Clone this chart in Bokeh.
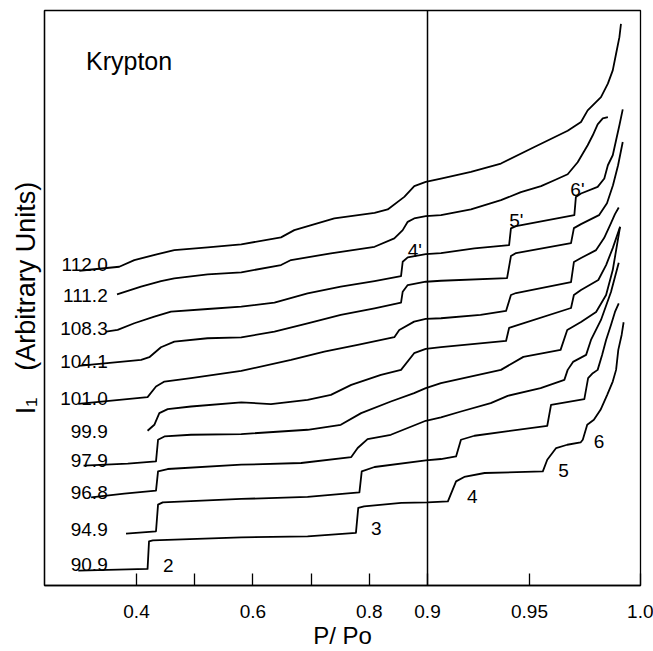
from bokeh.plotting import figure
from bokeh.models import (ColumnDataSource, CustomJSTransform, FixedTicker, Span,
                          Range1d, CustomJSTickFormatter)
from bokeh.transform import transform
from bokeh.embed import file_html
from bokeh.resources import INLINE
from bokeh.core.properties import value
import numpy as np

# ---------------- data (P/Po, I1 in arbitrary units) ----------------
temps = ["112.0", "111.2", "108.3", "104.1", "101.0", "99.9", "97.9", "96.8", "94.9", "90.9"]

P_909 = [0.300, 0.419, 0.4215, 0.428, 0.580, 0.694, 0.777, 0.781, 0.791, 0.855, 0.900, 0.910, 0.914, 0.918, 0.928,
         0.956, 0.958, 0.962, 0.967, 0.973, 0.974, 0.976, 0.979, 0.982, 0.985, 0.9875, 0.989, 0.990, 0.9915, 0.9924]
I_909 = [15, 16.7, 44.3, 45.3, 48.3, 49.3, 52.7, 77.7, 79.3, 82.7, 83.3, 84.3, 104.3, 108.7, 112.7,
         114.3, 126, 137.7, 141, 143.3, 146, 161, 166, 176, 191, 204.3, 216, 236, 251, 263.7]

P_949 = [0.382, 0.4335, 0.437, 0.445, 0.580, 0.694, 0.783, 0.787, 0.809, 0.897, 0.9066, 0.914, 0.9164, 0.923, 0.958,
         0.9597, 0.9747, 0.9764, 0.9785, 0.9807, 0.9827, 0.9845, 0.9867, 0.9885, 0.9902]
I_949 = [52, 54.3, 81, 83.3, 86.7, 88.7, 93.3, 114.3, 118.7, 125.3, 126.7, 129.3, 146, 150, 160,
         181, 186.7, 207.7, 212.7, 216, 231, 246, 261, 274, 282.7]

P_968 = [0.322, 0.379, 0.4335, 0.437, 0.4536, 0.580, 0.683, 0.769, 0.780, 0.797, 0.837, 0.897, 0.9066, 0.9164, 0.931,
         0.9393, 0.955, 0.9657, 0.9672, 0.9696, 0.9755, 0.9777, 0.9822, 0.9867, 0.9902]
I_968 = [88.3, 92, 95, 114.3, 116.7, 121, 122.7, 128.7, 137.7, 146.7, 151, 165, 168.5, 174.3, 182.7,
         190, 197.7, 206, 216, 224, 231, 246, 266, 294, 323.3]

P_979 = [0.309, 0.385, 0.4335, 0.437, 0.448, 0.4936, 0.580, 0.694, 0.751, 0.786, 0.837, 0.877, 0.897, 0.9066, 0.936,
         0.947, 0.964, 0.967, 0.9732, 0.980, 0.9845, 0.9875, 0.9908]
I_979 = [120, 122, 124.3, 146, 149.3, 151, 151.7, 156, 161, 172.7, 184.3, 192.7, 197.7, 202.7, 216,
         229, 236, 256, 264, 274, 291, 316, 359.3]

P_999 = [0.419, 0.4306, 0.4392, 0.4536, 0.4936, 0.580, 0.631, 0.694, 0.734, 0.769, 0.820, 0.8545, 0.877, 0.897, 0.9066,
         0.9385, 0.940, 0.943, 0.9687, 0.970, 0.9732, 0.981, 0.9845, 0.9875, 0.9908]
I_999 = [155, 161, 172.7, 176.7, 179.3, 183.5, 181.7, 186, 191, 201, 211, 216, 232.7, 237, 238.7,
         245, 258, 260, 278, 291, 296, 306, 321, 338, 359.3]

P_1010 = [0.300, 0.419, 0.4335, 0.448, 0.4936, 0.580, 0.6655, 0.7227, 0.780, 0.843, 0.8515, 0.877, 0.897, 0.9066,
          0.926, 0.9385, 0.9409, 0.9434, 0.9687, 0.970, 0.9732, 0.980, 0.9836, 0.9863, 0.9885, 0.9902]
I_1010 = [182, 188.7, 199.3, 204.3, 207.7, 215, 226, 234.3, 241, 248.7, 256, 264.3, 267, 267.7,
          271, 275, 291, 293, 304, 324, 328, 336, 348, 361, 372, 378.7]

P_1041 = [0.300, 0.408, 0.422, 0.442, 0.465, 0.522, 0.580, 0.637, 0.694, 0.751, 0.809, 0.8545, 0.8574, 0.866, 0.897,
          0.9066, 0.939, 0.9409, 0.9434, 0.9687, 0.970, 0.9732, 0.9813, 0.9849, 0.9876, 0.9899, 0.992]
I_1041 = [220, 226, 228.7, 238.7, 244.3, 247.7, 248.5, 254.3, 262.7, 271, 277.7, 283.3, 294.3, 301, 304.3,
          305.3, 308, 330, 333, 343, 358, 362, 371, 383, 401, 421, 444.3]

P_1083 = [0.3476, 0.3676, 0.3962, 0.4306, 0.4593, 0.5223, 0.580, 0.637, 0.694, 0.751, 0.809, 0.8545, 0.8574, 0.866,
          0.897, 0.9066, 0.923, 0.940, 0.9409, 0.9434, 0.9702, 0.9709, 0.9732, 0.9807, 0.9837, 0.9853, 0.9875, 0.989,
          0.9905, 0.992]
I_1083 = [254.3, 256, 262.7, 269.3, 274.3, 277, 279.3, 283.3, 292.7, 299.3, 305, 310, 324.3, 328.7,
          332, 333, 337.7, 341, 357.7, 360, 371, 389.3, 392.7, 399.3, 407.7, 421, 431, 446, 461, 477]

P_1112 = [0.3665, 0.4077, 0.4421, 0.4649, 0.5223, 0.580, 0.6483, 0.6655, 0.734, 0.809, 0.843, 0.8574, 0.866, 0.877,
          0.897, 0.9066, 0.9213, 0.936, 0.9458, 0.9552, 0.9612, 0.9672, 0.9717, 0.9762, 0.9785, 0.9807, 0.983, 0.9853]
I_1112 = [291.7, 299.3, 305, 307.7, 311.7, 313.7, 321, 326, 332.7, 339.3, 347.7, 356, 364.3, 367.7,
          370, 371, 376.7, 386, 394, 400, 406, 412, 424, 441, 451, 462, 468, 469.3]

P_1120 = [0.3017, 0.3704, 0.3962, 0.4364, 0.4649, 0.5223, 0.580, 0.6483, 0.6711, 0.7399, 0.809, 0.8316, 0.8601,
          0.8773, 0.897, 0.9066, 0.9213, 0.936, 0.9522, 0.9672, 0.9732, 0.9762, 0.9822, 0.9853, 0.9875, 0.989,
          0.9905, 0.9912]
I_1120 = [315.3, 319.3, 326, 332, 336, 338.7, 341.8, 348.7, 356, 367.7, 373.3, 376.7, 389.3,
          400, 404.3, 407.7, 414.3, 422.7, 439.3, 455.5, 464.3, 476, 489.3, 502.7, 516, 532.7, 549.3, 562.7]

series_P = [P_1120, P_1112, P_1083, P_1041, P_1010, P_999, P_979, P_968, P_949, P_909]
series_I = [I_1120, I_1112, I_1083, I_1041, I_1010, I_999, I_979, I_968, I_949, I_909]

step_labels = ["2", "3", "4", "5", "6", "4'", "5'", "6'"]
tick_values = [0.4, 0.5, 0.6, 0.7, 0.8, 0.9, 0.95, 1.0]
tick_labels = ["0.4", "", "0.6", "", "0.8", "0.9", "0.95", "1.0"]

# ---------------- broken P/Po axis (piecewise linear display scale) ----------------
BREAK_P = [0.2, 0.9, 0.95, 1.0]
BREAK_U = [-407.4, 0.0, 102.0, 213.0]
brk = CustomJSTransform(args=dict(BP=BREAK_P, BU=BREAK_U), v_func="""
const out = new Float64Array(xs.length);
for (let i = 0; i < xs.length; i++) {
  const x = xs[i];
  let k = 0;
  while (k < BP.length - 2 && x > BP[k + 1]) k++;
  out[i] = BU[k] + (x - BP[k]) * (BU[k + 1] - BU[k]) / (BP[k + 1] - BP[k]);
}
return out;
""")

def to_u(p):
    return float(np.interp(p, BREAK_P, BREAK_U))

FONT = "Liberation Sans"
X0, X1 = to_u(0.2419), to_u(1.0)

p = figure(width=653, height=651, output_backend="svg", toolbar_location=None,
           x_range=Range1d(X0, X1), y_range=Range1d(0, 576),
           min_border_left=44, min_border_right=13, min_border_top=10, min_border_bottom=65)
p.grid.visible = False
p.outline_line_color = "black"
p.outline_line_width = 1.3
p.background_fill_color = "white"
p.border_fill_color = "white"

for P_, I_ in zip(series_P, series_I):
    src = ColumnDataSource(dict(p=P_, i=I_))
    p.line(x=transform("p", brk), y="i", source=src, line_color="black",
           line_width=1.8, line_join="round")

p.add_layout(Span(location=to_u(0.9), dimension="height", line_color="black", line_width=1.5))

# temperature labels at the left of each curve
temp_src = ColumnDataSource(dict(x=[0.3505] * len(temps),
                                 y=[322, 291, 257.7, 224.3, 187.7, 154.3, 125.3, 92.7, 56, 21],
                                 t=temps))
p.text(x=transform("x", brk), y="y", text="t", source=temp_src, text_align="right",
       text_baseline="alphabetic", text_font=value(FONT), text_font_size="19px", text_color="black")

# step labels
step_src = ColumnDataSource(dict(x=[0.4455, 0.8029, 0.9194, 0.9630, 0.9789, 0.8660, 0.9401, 0.9684],
                                 y=[20, 56.7, 88.7, 115.3, 144.3, 335.3, 366, 396.7],
                                 t=step_labels))
p.text(x=transform("x", brk), y="y", text="t", source=step_src, text_align="left",
       text_baseline="alphabetic", text_font=value(FONT), text_font_size="19px", text_color="black")

title_src = ColumnDataSource(dict(x=[0.3132], y=[525], t=["Krypton"]))
p.text(x=transform("x", brk), y="y", text="t", source=title_src, text_align="left",
       text_baseline="alphabetic", text_font=value(FONT), text_font_size="25px", text_color="black")

# x axis
u_ticks = [round(to_u(v), 4) for v in tick_values]
xa = p.xaxis[0]
xa.ticker = FixedTicker(ticks=u_ticks, minor_ticks=[])
xa.formatter = CustomJSTickFormatter(args=dict(vals=u_ticks, labs=tick_labels), code="""
let best = 0;
for (let k = 0; k < vals.length; k++) {
  if (Math.abs(vals[k] - tick) < Math.abs(vals[best] - tick)) best = k;
}
return labs[best];
""")
xa.major_tick_in = 12
xa.major_tick_out = 0
xa.minor_tick_line_color = None
xa.major_tick_line_width = 1.3
xa.axis_line_width = 1.3
xa.major_label_standoff = 19
xa.major_label_text_font = FONT
xa.major_label_text_font_size = "19px"
xa.major_label_text_color = "black"
xa.axis_label = "P/ Po"
xa.axis_label_text_font = FONT
xa.axis_label_text_font_size = "24px"
xa.axis_label_text_font_style = "normal"
xa.axis_label_text_color = "black"
xa.axis_label_standoff = 1

# y axis (no ticks)
ya = p.yaxis[0]
ya.ticker = FixedTicker(ticks=[])
ya.major_tick_line_color = None
ya.minor_tick_line_color = None
ya.axis_line_width = 1.3
ya.axis_label = "I\u2081\u2003(Arbitrary Units)"
ya.axis_label_text_font = FONT
ya.axis_label_text_font_size = "27px"
ya.axis_label_text_font_style = "normal"
ya.axis_label_text_color = "black"
ya.axis_label_standoff = 4

open("out.html", "w").write(file_html(p, INLINE))
